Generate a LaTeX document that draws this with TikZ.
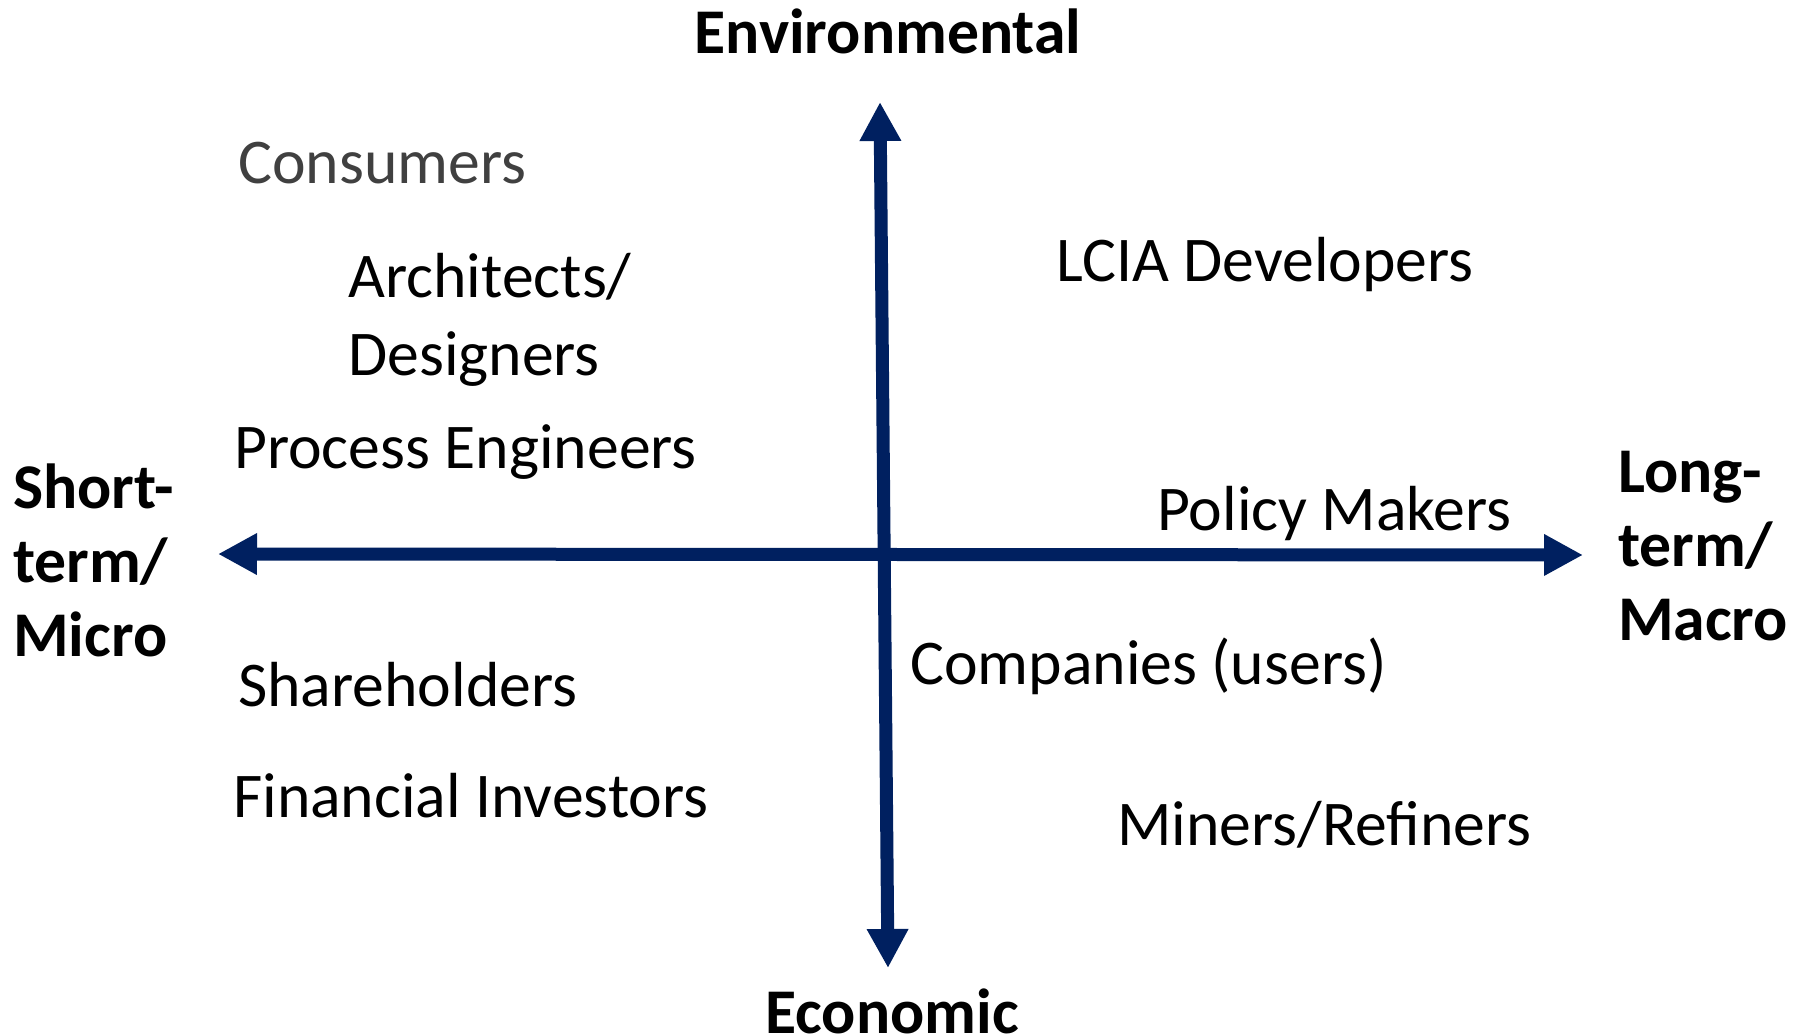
\documentclass[tikz,border=0pt]{standalone}
\usepackage{fontspec}
\setmainfont{Carlito}
\usetikzlibrary{arrows.meta}
\definecolor{navy}{HTML}{002060}
\definecolor{greytxt}{HTML}{404040}
\begin{document}
\begin{tikzpicture}[x=1pt,y=-1pt,
  axis/.style={navy,line width=13pt,{Triangle[length=39pt,width=39pt]}-{Triangle[length=39pt,width=39pt]}},
  lbl/.style={anchor=base west,inner sep=0pt,font=\fontsize{63.7}{76}\selectfont},
  axlbl/.style={inner sep=0pt,font=\fontsize{63.7}{74}\selectfont\bfseries,align=left}]
\useasboundingbox (0,0) rectangle (1800,1035);
\coordinate (top) at (880,102);
\coordinate (bot) at (888,968);
\coordinate (lft) at (218,554);
\coordinate (rgt) at (1583,555);
\draw[axis] (lft) -- (rgt);
\draw[axis] (bot) -- (top);
\node[axlbl,anchor=base] (env) at (888,54) {Environmental};
\node[axlbl,anchor=base] (eco) at (892,1033) {Economic};
\node[axlbl,anchor=base west] (short) at (13,656) {Short-\\term/\\Micro};
\node[axlbl,anchor=base west] (long) at (1618,640) {Long-\\term/\\Macro};
\node[lbl,text=greytxt] (cons) at (238,184) {Consumers};
\node[lbl] (arch) at (348,298) {Architects/};
\node[lbl] (des) at (348,375) {Designers};
\node[lbl] (proc) at (234,468) {Process Engineers};
\node[lbl] (lcia) at (1056,281) {LCIA Developers};
\node[lbl] (pol) at (1157,530) {Policy Makers};
\node[lbl] (comp) at (910,684) {Companies (users)};
\node[lbl] (share) at (238,706) {Shareholders};
\node[lbl] (fin) at (233,817) {Financial Investors};
\node[lbl] (min) at (1117,845) {Miners/Refiners};
\end{tikzpicture}
\end{document}
